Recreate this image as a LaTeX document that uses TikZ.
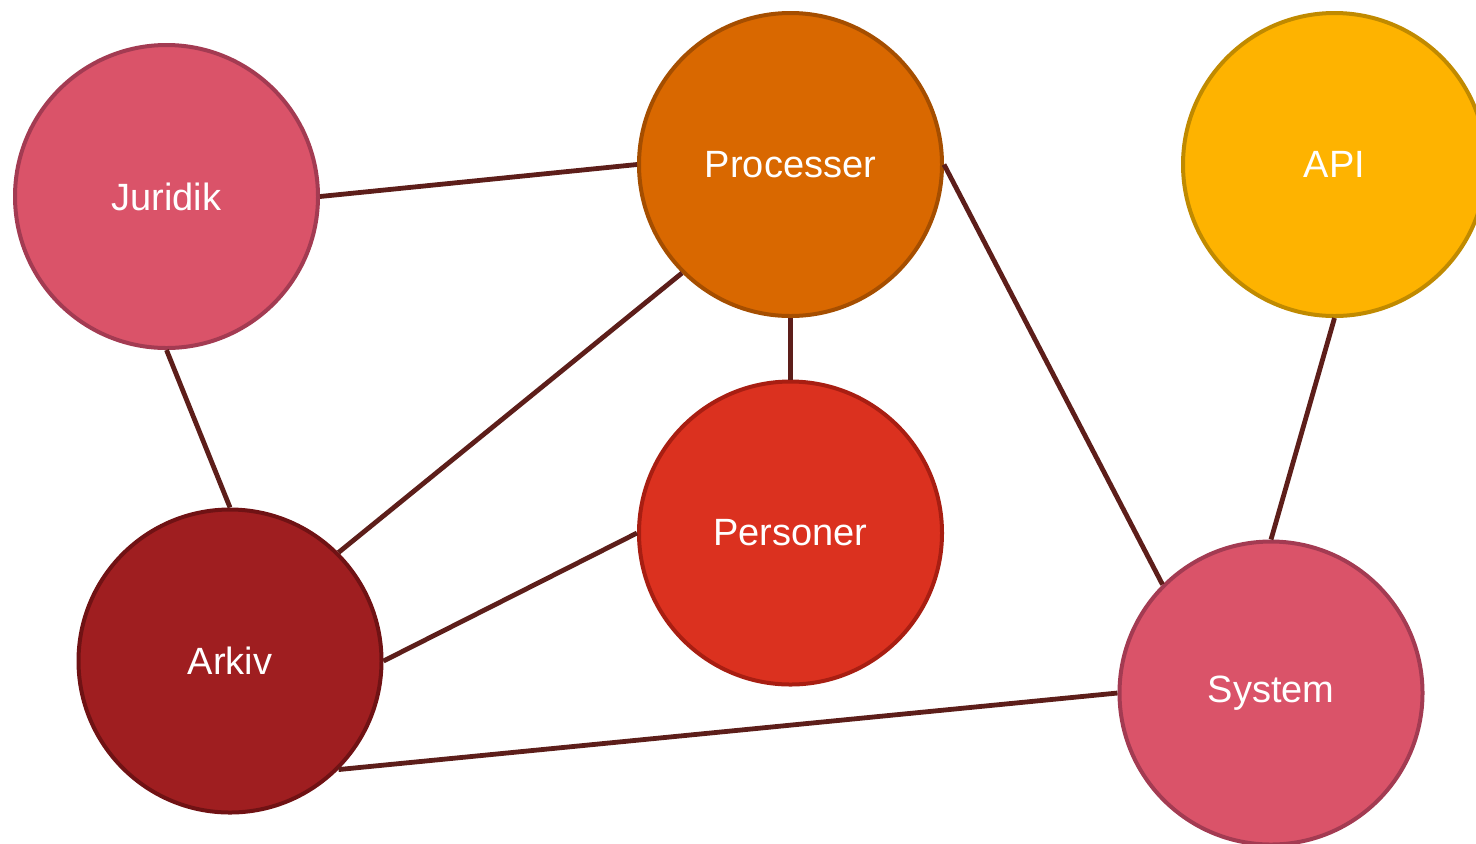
\documentclass[tikz,border=0pt]{standalone}
\usepackage{fontspec}
\setmainfont{Liberation Sans}
\definecolor{pinkfill}{HTML}{DA5369}
\definecolor{pinkline}{HTML}{A33B52}
\definecolor{orangefill}{HTML}{D96800}
\definecolor{orangeline}{HTML}{A54E00}
\definecolor{yellowfill}{HTML}{FEB300}
\definecolor{yellowline}{HTML}{C08A00}
\definecolor{redfill}{HTML}{DB311F}
\definecolor{redline}{HTML}{A81E12}
\definecolor{darkfill}{HTML}{9F1E20}
\definecolor{darkline}{HTML}{701214}
\definecolor{linkcol}{HTML}{5D1E1A}
\begin{document}
\begin{tikzpicture}[x = 0.5pt, y = -0.5pt,
		topic/.style = {circle, minimum size = 151.5pt, inner sep = 0pt, line width = 2pt, text = white, font = \fontsize{19}{23}\selectfont},
		link/.style = {draw = linkcol, line width = 2.4pt}]
	\useasboundingbox (0, 0) rectangle (1476, 843);
	\node[topic, fill = pinkfill, draw = pinkline] (juridik) at (166.5, 196.5) {Juridik};
	\node[topic, fill = orangefill, draw = orangeline] (processer) at (790.5, 164.5) {Processer};
	\node[topic, fill = yellowfill, draw = yellowline] (api) at (1334.5, 164.5) {API};
	\node[topic, fill = redfill, draw = redline] (personer) at (790.5, 533) {Personer};
	\node[topic, fill = darkfill, draw = darkline] (arkiv) at (230, 661) {Arkiv};
	\node[topic, fill = pinkfill, draw = pinkline] (system) at (1271, 693) {System};
	\draw[link] (juridik.east) -- (processer.west);
	\draw[link] (juridik.south) -- (arkiv.north);
	\draw[link] (processer.south west) -- (arkiv.north east);
	\draw[link] (processer.south) -- (personer.north);
	\draw[link] (processer.east) -- (system.north west);
	\draw[link] (api.south) -- (system.north);
	\draw[link] (arkiv.east) -- (personer.west);
	\draw[link] (arkiv.south east) -- (system.west);
\end{tikzpicture}
\end{document}
